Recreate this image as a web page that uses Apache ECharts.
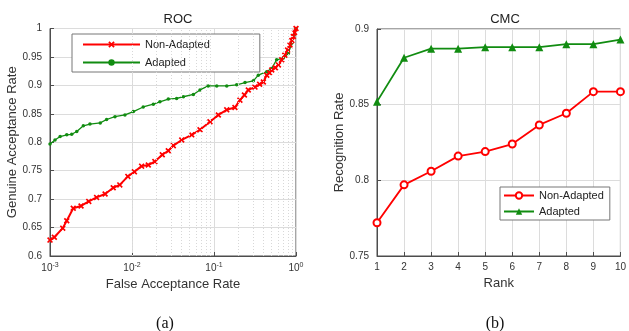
<!DOCTYPE html>
<html>
<head>
<meta charset="utf-8">
<script src="https://cdn.jsdelivr.net/npm/echarts@6/dist/echarts.min.js"></script>
<style>
  html, body { margin: 0; padding: 0; background: #fff; }
  #chart { width: 629px; height: 331px; }
</style>
</head>
<body>
<div id="chart"></div>
<script>
// ROC curves: [false acceptance rate, genuine acceptance rate]
const rocNonAdapted = [
  [0.001, 0.628], [0.00113, 0.633], [0.00143, 0.649], [0.0016, 0.662], [0.00192, 0.684],
  [0.00239, 0.688], [0.00297, 0.696], [0.0037, 0.703], [0.0047, 0.709], [0.0059, 0.72],
  [0.0071, 0.725], [0.0089, 0.74], [0.0107, 0.748], [0.0131, 0.758], [0.0158, 0.76],
  [0.019, 0.766], [0.0234, 0.778], [0.0277, 0.785], [0.0319, 0.794], [0.0404, 0.804],
  [0.0535, 0.813], [0.0675, 0.822], [0.0893, 0.836], [0.113, 0.848], [0.143, 0.857],
  [0.18, 0.861], [0.207, 0.874], [0.235, 0.883], [0.262, 0.892], [0.316, 0.897],
  [0.36, 0.902], [0.4, 0.906], [0.44, 0.918], [0.475, 0.922], [0.506, 0.927],
  [0.56, 0.931], [0.61, 0.936], [0.67, 0.945], [0.73, 0.953], [0.79, 0.962],
  [0.845, 0.971], [0.89, 0.979], [0.927, 0.986], [0.96, 0.993], [1, 1]
];
const rocAdapted = [
  [0.001, 0.797], [0.00115, 0.804], [0.00133, 0.81], [0.0016, 0.813], [0.00184, 0.814],
  [0.00212, 0.819], [0.00255, 0.829], [0.00307, 0.832], [0.0041, 0.834], [0.0049, 0.84],
  [0.0062, 0.845], [0.0082, 0.848], [0.0104, 0.854], [0.0137, 0.862], [0.0182, 0.867],
  [0.0219, 0.871], [0.0277, 0.876], [0.035, 0.877], [0.0423, 0.88], [0.056, 0.884],
  [0.0675, 0.892], [0.085, 0.899], [0.108, 0.899], [0.143, 0.899], [0.189, 0.901],
  [0.239, 0.905], [0.302, 0.908], [0.347, 0.918], [0.44, 0.924], [0.506, 0.93],
  [0.58, 0.945], [0.70, 0.948], [0.806, 0.956], [0.885, 0.974], [0.946, 0.989], [1, 1]
];

// CMC curves
const ranks = [1, 2, 3, 4, 5, 6, 7, 8, 9, 10];
const cmcNonAdapted = [0.772, 0.797, 0.806, 0.816, 0.819, 0.824, 0.8366, 0.8443, 0.8586, 0.8586];
const cmcAdapted = [0.852, 0.881, 0.887, 0.887, 0.888, 0.888, 0.888, 0.890, 0.890, 0.893];

const RED = '#ff0000';
const GREEN = '#118c11';
const AXIS = '#4d4d4d';
const GRIDC = '#dcdcdc';
const FONT = 'Liberation Sans, Arial, sans-serif';

// minor grid positions for the log axis (2..9 in each decade)
const minorX = [];
for (let d = -3; d < 0; d++) {
  for (let k = 2; k <= 9; k++) minorX.push({ xAxis: k * Math.pow(10, d) });
}

const crossPath = 'path://M2,0 L5,3 L8,0 L10,2 L7,5 L10,8 L8,10 L5,7 L2,10 L0,8 L3,5 L0,2 Z';

const legendNames = { 'roc-non': 'Non-Adapted', 'roc-ad': 'Adapted', 'cmc-non': 'Non-Adapted', 'cmc-ad': 'Adapted' };

const chart = echarts.init(document.getElementById('chart'), null, { renderer: 'canvas' });

const axisCommon = {
  axisLine: { show: true, lineStyle: { color: AXIS, width: 1 } },
  axisTick: { show: true, inside: true, length: 4, lineStyle: { color: AXIS } },
  axisLabel: { color: '#333', fontSize: 10, fontFamily: FONT },
  nameTextStyle: { color: '#333', fontSize: 13, fontFamily: FONT },
  splitLine: { show: true, lineStyle: { color: GRIDC, width: 1 } }
};

chart.setOption({
  animation: false,
  backgroundColor: '#fff',
  title: [
    { text: 'ROC', left: 173, top: 8, textAlign: 'center', textStyle: { fontSize: 13, fontWeight: 'normal', color: '#222', fontFamily: FONT } },
    { text: 'CMC', left: 500, top: 8, textAlign: 'center', textStyle: { fontSize: 13, fontWeight: 'normal', color: '#222', fontFamily: FONT } },
    { text: '(a)', left: 160, top: 311, textAlign: 'center', textStyle: { fontSize: 16, fontWeight: 'normal', color: '#111', fontFamily: 'Liberation Serif, Times New Roman, serif' } },
    { text: '(b)', left: 490, top: 311, textAlign: 'center', textStyle: { fontSize: 16, fontWeight: 'normal', color: '#111', fontFamily: 'Liberation Serif, Times New Roman, serif' } }
  ],
  legend: [
    {
      data: ['roc-non', 'roc-ad'],
      orient: 'vertical',
      left: 72, top: 34,
      padding: [5, 50, 4, 10],
      itemWidth: 57, itemHeight: 8, itemGap: 7,
      backgroundColor: '#fff',
      borderColor: '#777', borderWidth: 1,
      formatter: (n) => legendNames[n],
      textStyle: { fontSize: 11, color: '#222', fontFamily: FONT }
    },
    {
      data: ['cmc-non', 'cmc-ad'],
      orient: 'vertical',
      left: 500, top: 187,
      padding: [3, 6, 3, 3],
      itemWidth: 30, itemHeight: 8, itemGap: 5,
      backgroundColor: '#fff',
      borderColor: '#777', borderWidth: 1,
      formatter: (n) => legendNames[n],
      textStyle: { fontSize: 11, color: '#222', fontFamily: FONT }
    }
  ],
  grid: [
    { left: 50, right: 333, top: 28.5, bottom: 75, show: true, borderColor: AXIS, borderWidth: 1 },
    { left: 377, right: 7, top: 29, bottom: 75, show: true, borderColor: AXIS, borderWidth: 1 }
  ],
  xAxis: [
    Object.assign({}, axisCommon, {
      gridIndex: 0,
      type: 'log', logBase: 10, min: 0.001, max: 1,
      name: 'False Acceptance Rate', nameLocation: 'middle', nameGap: 22,
      axisLabel: {
        color: '#333', fontSize: 10, fontFamily: FONT, margin: 6,
        formatter: (v) => '{b|10}{s|' + Math.round(Math.log10(v)) + '}',
        rich: {
          b: { fontSize: 10, color: '#333', fontFamily: FONT },
          s: { fontSize: 7, color: '#333', fontFamily: FONT, verticalAlign: 'top', padding: [0, 0, 6, 0] }
        }
      }
    }),
    Object.assign({}, axisCommon, {
      gridIndex: 1,
      type: 'value', min: 1, max: 10, interval: 1,
      name: 'Rank', nameLocation: 'middle', nameGap: 18,
      axisLabel: { color: '#333', fontSize: 10, fontFamily: FONT, margin: 6 }
    })
  ],
  yAxis: [
    Object.assign({}, axisCommon, {
      gridIndex: 0,
      type: 'value', min: 0.6, max: 1, interval: 0.05,
      name: 'Genuine Acceptance Rate', nameLocation: 'middle', nameGap: 28
    }),
    Object.assign({}, axisCommon, {
      gridIndex: 1,
      type: 'value', min: 0.75, max: 0.9, interval: 0.05,
      name: 'Recognition Rate', nameLocation: 'middle', nameGap: 27
    })
  ],
  series: [
    {
      name: 'minor-grid', type: 'line', xAxisIndex: 0, yAxisIndex: 0, data: [],
      silent: true,
      markLine: {
        silent: true, symbol: 'none', label: { show: false },
        lineStyle: { color: '#d8d8d8', type: [1, 2], width: 1 },
        data: minorX
      }
    },
    {
      name: 'roc-ad', type: 'line', xAxisIndex: 0, yAxisIndex: 0,
      data: rocAdapted,
      symbol: 'circle', symbolSize: 3.5, showAllSymbol: true,
      lineStyle: { color: GREEN, width: 1.3 },
      itemStyle: { color: GREEN }
    },
    {
      name: 'roc-non', type: 'line', xAxisIndex: 0, yAxisIndex: 0,
      data: rocNonAdapted,
      symbol: crossPath, symbolSize: 6, showAllSymbol: true,
      lineStyle: { color: RED, width: 2 },
      itemStyle: { color: RED }
    },
    {
      name: 'cmc-non', type: 'line', xAxisIndex: 1, yAxisIndex: 1,
      data: ranks.map((r, i) => [r, cmcNonAdapted[i]]),
      symbol: 'emptyCircle', symbolSize: 7,
      lineStyle: { color: RED, width: 1.8 },
      itemStyle: { color: RED, borderColor: RED, borderWidth: 1.6 }
    },
    {
      name: 'cmc-ad', type: 'line', xAxisIndex: 1, yAxisIndex: 1,
      data: ranks.map((r, i) => [r, cmcAdapted[i]]),
      symbol: 'triangle', symbolSize: 8,
      lineStyle: { color: GREEN, width: 1.8 },
      itemStyle: { color: GREEN }
    }
  ]
});
</script>
</body>
</html>
